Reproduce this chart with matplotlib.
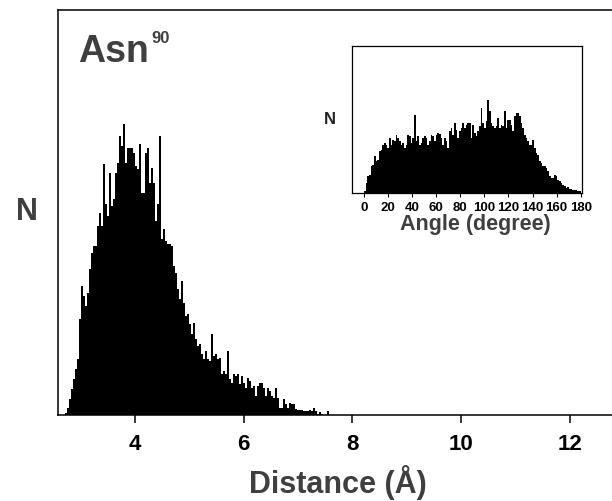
import numpy as np
import matplotlib
matplotlib.use("Agg")
import matplotlib.pyplot as plt

plt.rcParams['font.family'] = ['Liberation Sans', 'DejaVu Sans']
plt.rcParams['font.weight'] = 'bold'

# distance histogram (Asn90), bin counts
dist_start = 2.712
dist_width = 0.0368
dist_counts = [2, 7, 16, 26, 36, 46, 56, 96, 129, 119, 109, 122, 146, 162, 169, 169, 189, 202, 189, 251,
               211, 199, 242, 209, 216, 242, 252, 279, 269, 291, 252, 267, 267, 267, 262, 249, 246,
               271, 222, 222, 262, 267, 232, 247, 232, 194, 211, 279, 176, 186, 174, 171, 171, 169, 149,
               142, 126, 116, 134, 112, 99, 101, 91, 81, 92, 76, 69, 71, 61, 56, 64, 56, 54, 81, 59, 61, 56,
               57, 41, 44, 41, 64, 36, 32, 41, 39, 41, 31, 39, 32, 27, 37, 34, 27, 29, 19, 29, 32, 32, 27,
               19, 27, 24, 19, 17, 27, 17, 7, 7, 16, 11, 7, 12, 11, 11, 6, 5, 5, 5, 4, 4, 4,
               5, 4, 7, 4, 1, 3, 1, 0, 0, 4]
dist_ticks = [4, 6, 8, 10, 12]

# angle histogram (inset)
angle_counts = [2, 10, 17, 18, 27, 28, 37, 32, 33, 42, 43, 48, 50, 48, 45, 55, 48, 53, 52, 58,
                55, 52, 48, 50, 45, 48, 58, 57, 50, 55, 78, 52, 57, 48, 50, 55, 57, 55, 48, 52,
                58, 57, 52, 58, 60, 59, 55, 48, 55, 52, 45, 62, 65, 58, 70, 63, 55, 62, 65, 70,
                65, 68, 70, 70,
                55, 68, 60, 57, 62, 67, 85, 70, 65, 72, 93, 82, 70, 67, 65, 67, 75, 65, 68, 67,
                82, 65, 73, 73, 68, 62, 77, 80, 80, 77, 70, 65, 58, 55, 52, 48, 48, 53, 45, 40,
                38, 32, 30, 27, 27, 25, 22, 17, 15, 15, 18, 17, 13, 12, 10, 8, 7, 5, 6, 4,
                4, 3, 3, 3, 2, 2]
angle_ticks = list(range(0, 181, 20))

gray = '#3f3f3f'

fig = plt.figure(figsize=(6.12, 5.01), dpi=100)

# main axes (right edge runs past the picture, like the reference crop)
ax = fig.add_axes([58/612, 86/501, 566/612, 405/501])
dist_edges = dist_start + dist_width * np.arange(len(dist_counts) + 1)
ax.stairs(dist_counts, dist_edges, fill=True, color='black', linewidth=0)
ax.set_xlim(2.58, 13)
ax.set_ylim(0, 405)
ax.set_yticks([])
ax.set_xticks(dist_ticks)
ax.set_xticklabels([str(t) for t in dist_ticks], fontsize=16, fontweight='bold')
ax.tick_params(axis='x', direction='out', length=6, width=1.1, pad=8, top=False)
for s in ax.spines.values():
    s.set_linewidth(1.1)
ax.set_xlabel('Distance (Å)', fontsize=22, fontweight='bold', color=gray, va='baseline')
ax.xaxis.set_label_coords(0.494, -0.192)
ax.set_ylabel('N', fontsize=22, fontweight='bold', color=gray, rotation=0, va='center', ha='center')
ax.yaxis.set_label_coords(-0.055, 0.5)
ax.text(0.0353, 0.872, 'Asn', transform=ax.transAxes, fontsize=27, fontweight='bold',
        color=gray, ha='left', va='baseline')
ax.text(0.1655, 0.918, '90', transform=ax.transAxes, fontsize=12, fontweight='bold',
        color=gray, ha='left', va='baseline')

# inset
ins = fig.add_axes([351.7/612, 307.7/501, 230.6/612, 147.6/501])
angle_edges = np.linspace(0, 180, len(angle_counts) + 1)
ins.stairs(angle_counts, angle_edges, fill=True, color='black', linewidth=0)
ins.set_xlim(-10.2, 181.3)
ins.set_ylim(0, 147.6)
ins.set_yticks([])
ins.set_xticks(angle_ticks)
ins.set_xticklabels([str(t) for t in angle_ticks], fontsize=9.5, fontweight='bold')
ins.tick_params(axis='x', direction='out', length=3, width=0.8, pad=3.5)
for s in ins.spines.values():
    s.set_linewidth(0.9)
ins.set_xlabel('Angle (degree)', fontsize=15.5, fontweight='bold', color=gray, va='baseline')
ins.xaxis.set_label_coords(0.538, -0.249)
ins.set_ylabel('N', fontsize=12, fontweight='bold', color='#222222', rotation=0, va='center', ha='center')
ins.yaxis.set_label_coords(-0.096, 0.5)

fig.savefig('out.png', dpi=100)
